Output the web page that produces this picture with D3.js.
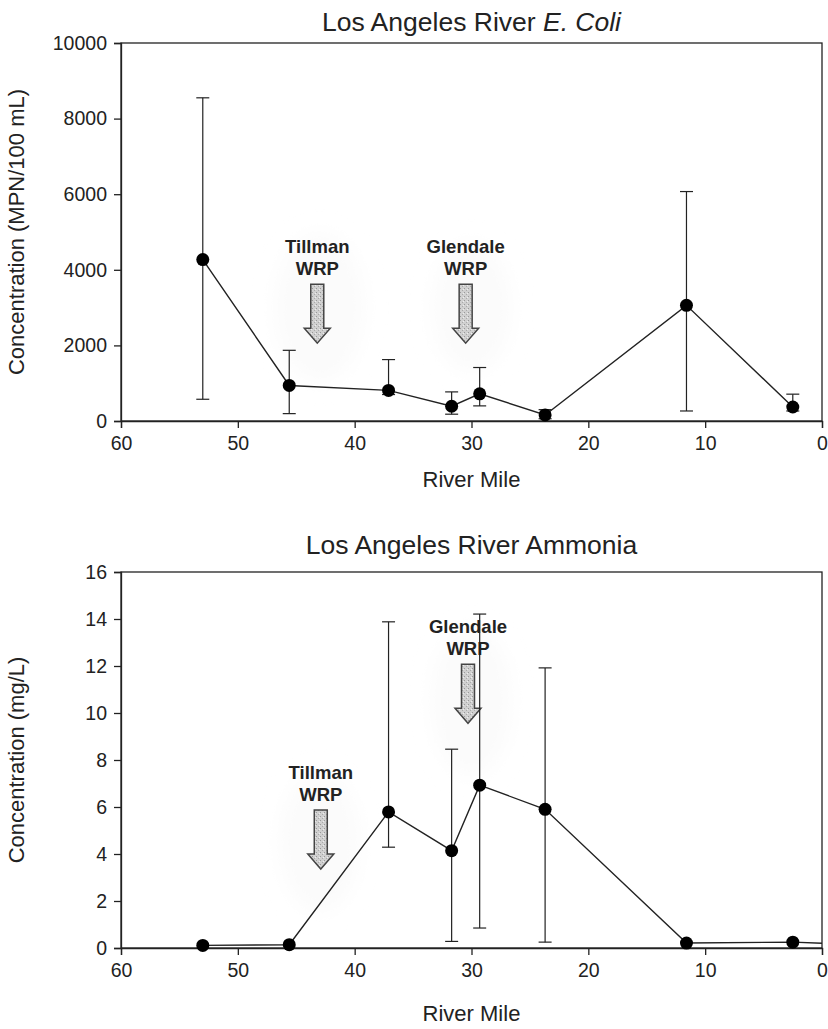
<!DOCTYPE html>
<html>
<head>
<meta charset="utf-8">
<script src="https://cdn.jsdelivr.net/npm/d3@7"></script>
<style>
  html, body { margin: 0; padding: 0; background: #fff; }
  svg { display: block; }
  text { font-family: "Liberation Sans", Arial, sans-serif; fill: #222; }
</style>
</head>
<body>
<svg id="chart" width="828" height="1029"></svg>
<script>
// Sampling stations, river mile (shared by both panels)
const riverMiles = [53, 45.6, 37.1, 31.7, 29.3, 23.7, 11.6, 2.5];

// E. coli (MPN/100 mL): mean, upper and lower error bar
const ecoliMean = [4270, 940, 810, 390, 720, 160, 3060, 370];
const ecoliHigh = [8550, 1870, 1625, 770, 1415, 300, 6070, 710];
const ecoliLow  = [575, 195, 700, 180, 400, 60, 265, 265];

// Ammonia (mg/L): mean, upper and lower error bar (null = no bar)
const ammoniaMean = [0.11, 0.14, 5.79, 4.14, 6.93, 5.90, 0.21, 0.25];
const ammoniaHigh = [null, null, 13.88, 8.46, 14.21, 11.92, null, null];
const ammoniaLow  = [null, null, 4.29, 0.28, 0.85, 0.25, null, null];
// line continues to the river mouth
const ammoniaTail = [{ mile: 0, value: 0.2 }];

// Axis ticks
const mileTicks = [60, 50, 40, 30, 20, 10, 0];
const ecoliTicks = [0, 2000, 4000, 6000, 8000, 10000];
const ammoniaTicks = [0, 2, 4, 6, 8, 10, 12, 14, 16];

// Treatment plant annotations: name, river mile, value at the arrow's top
const ecoliPlants = [
  { name: "Tillman", mile: 43.2, top: 3620 },
  { name: "Glendale", mile: 30.5, top: 3620 }
];
const ammoniaPlants = [
  { name: "Tillman", mile: 42.9, top: 5.87 },
  { name: "Glendale", mile: 30.3, top: 12.07 }
];

const svg = d3.select("#chart");
const defs = svg.append("defs");

// stippled grey fill for the arrows
const pat = defs.append("pattern").attr("id", "stipple")
  .attr("width", 4).attr("height", 4).attr("patternUnits", "userSpaceOnUse");
pat.append("rect").attr("width", 4).attr("height", 4).attr("fill", "#d0d0d0");
pat.append("rect").attr("x", 0).attr("y", 0).attr("width", 1).attr("height", 1).attr("fill", "#999");
pat.append("rect").attr("x", 2).attr("y", 2).attr("width", 1).attr("height", 1).attr("fill", "#aaa");
pat.append("rect").attr("x", 3).attr("y", 1).attr("width", 1).attr("height", 1).attr("fill", "#eee");

defs.append("filter").attr("id", "soft").attr("x", "-50%").attr("y", "-50%")
  .attr("width", "200%").attr("height", "200%")
  .append("feGaussianBlur").attr("stdDeviation", 10);

function drawPanel(cfg) {
  const { left, right, top, bottom } = cfg.box;
  const x = d3.scaleLinear().domain([60, 0]).range([left, right]);
  const y = d3.scaleLinear().domain(cfg.yDomain).range([bottom, top]);
  const g = svg.append("g");

  // very faint halos behind the plant labels
  cfg.halos.forEach(h => {
    g.append("ellipse")
      .attr("cx", x(h.mile)).attr("cy", y(h.value))
      .attr("rx", h.rx).attr("ry", h.ry)
      .attr("fill", "#fbfbfb").attr("filter", "url(#soft)");
  });

  // frame
  g.append("rect")
    .attr("x", left).attr("y", top)
    .attr("width", right - left).attr("height", bottom - top)
    .attr("fill", "none").attr("stroke", "#222").attr("stroke-width", 1.3);

  // axes
  const xAxis = d3.axisBottom(x).tickValues(mileTicks).tickSize(7).tickPadding(8).tickFormat(d3.format("d"));
  const yAxis = d3.axisLeft(y).tickValues(cfg.yTicks).tickSize(7).tickPadding(7).tickFormat(d3.format("d"));
  const gx = g.append("g").attr("transform", `translate(0,${bottom})`).call(xAxis);
  const gy = g.append("g").attr("transform", `translate(${left},0)`).call(yAxis);
  [gx, gy].forEach(a => {
    a.select(".domain").attr("stroke", "#222").attr("stroke-width", 1.3);
    a.selectAll(".tick line").attr("stroke", "#222").attr("stroke-width", 1.3);
    a.selectAll(".tick text").attr("font-size", 19.5).attr("fill", "#222")
      .attr("font-family", "Liberation Sans, Arial, sans-serif");
  });

  // titles
  const title = g.append("text")
    .attr("x", (left + right) / 2).attr("y", top - cfg.titleOffset)
    .attr("text-anchor", "middle").attr("font-size", 26.5);
  cfg.title.forEach(part => {
    title.append("tspan").text(part.t).attr("font-style", part.italic ? "italic" : "normal");
  });
  g.append("text")
    .attr("x", (left + right) / 2).attr("y", bottom + cfg.xTitleOffset)
    .attr("text-anchor", "middle").attr("font-size", 22).text("River Mile");
  g.append("text")
    .attr("transform", `translate(${cfg.yTitleX},${(top + bottom) / 2}) rotate(-90)`)
    .attr("text-anchor", "middle").attr("font-size", 22).text(cfg.yTitle);

  const pts = riverMiles.map((m, i) => ({
    mile: m, value: cfg.mean[i], hi: cfg.high[i], lo: cfg.low[i]
  }));

  // plant annotations
  cfg.plants.forEach(p => {
    const cx = x(p.mile), ty = y(p.top);
    const shaftW = 6.5, headW = 13, shaftLen = 44, headLen = 15;
    const path = d3.path();
    path.moveTo(cx - shaftW, ty);
    path.lineTo(cx + shaftW, ty);
    path.lineTo(cx + shaftW, ty + shaftLen);
    path.lineTo(cx + headW, ty + shaftLen);
    path.lineTo(cx, ty + shaftLen + headLen);
    path.lineTo(cx - headW, ty + shaftLen);
    path.lineTo(cx - shaftW, ty + shaftLen);
    path.closePath();
    g.append("path").attr("d", path.toString())
      .attr("fill", "url(#stipple)").attr("stroke", "#444").attr("stroke-width", 1.5);
    const lab = g.append("text").attr("text-anchor", "middle")
      .attr("font-weight", "bold").attr("font-size", 18.5).attr("fill", "#222");
    lab.append("tspan").attr("x", cx).attr("y", ty - 31).text(p.name);
    lab.append("tspan").attr("x", cx).attr("y", ty - 9).text("WRP");
  });

  // error bars
  const cap = 6.5;
  const eb = g.append("g").attr("stroke", "#222").attr("stroke-width", 1.2);
  pts.filter(d => d.hi != null).forEach(d => {
    const cx = x(d.mile);
    eb.append("line").attr("x1", cx).attr("x2", cx).attr("y1", y(d.hi)).attr("y2", y(d.lo));
    eb.append("line").attr("x1", cx - cap).attr("x2", cx + cap).attr("y1", y(d.hi)).attr("y2", y(d.hi));
    eb.append("line").attr("x1", cx - cap).attr("x2", cx + cap).attr("y1", y(d.lo)).attr("y2", y(d.lo));
  });

  // connecting line
  const line = d3.line().x(d => x(d.mile)).y(d => y(d.value));
  g.append("path").datum(pts.concat(cfg.tail || []))
    .attr("d", line).attr("fill", "none")
    .attr("stroke", "#222").attr("stroke-width", 1.4);

  // markers
  g.selectAll("circle.pt").data(pts).join("circle")
    .attr("class", "pt")
    .attr("cx", d => x(d.mile)).attr("cy", d => y(d.value))
    .attr("r", 6.5).attr("fill", "#000");
}

drawPanel({
  box: { left: 121, right: 822, top: 43, bottom: 421 },
  yDomain: [0, 10000], yTicks: ecoliTicks,
  mean: ecoliMean, high: ecoliHigh, low: ecoliLow,
  title: [{ t: "Los Angeles River " }, { t: "E. Coli", italic: true }],
  titleOffset: 12,
  yTitle: "Concentration (MPN/100 mL)",
  xTitleOffset: 66, yTitleX: 24,
  plants: ecoliPlants,
  halos: [
    { mile: 43, value: 3000, rx: 45, ry: 75 },
    { mile: 30, value: 3000, rx: 40, ry: 65 }
  ]
});

drawPanel({
  box: { left: 121, right: 822, top: 572, bottom: 948 },
  yDomain: [0, 16], yTicks: ammoniaTicks,
  mean: ammoniaMean, high: ammoniaHigh, low: ammoniaLow, tail: ammoniaTail,
  title: [{ t: "Los Angeles River Ammonia" }],
  titleOffset: 18,
  yTitle: "Concentration (mg/L)",
  xTitleOffset: 73, yTitleX: 24,
  plants: ammoniaPlants,
  halos: [
    { mile: 43, value: 4.5, rx: 40, ry: 70 },
    { mile: 30, value: 10.5, rx: 40, ry: 75 }
  ]
});
</script>
</body>
</html>
